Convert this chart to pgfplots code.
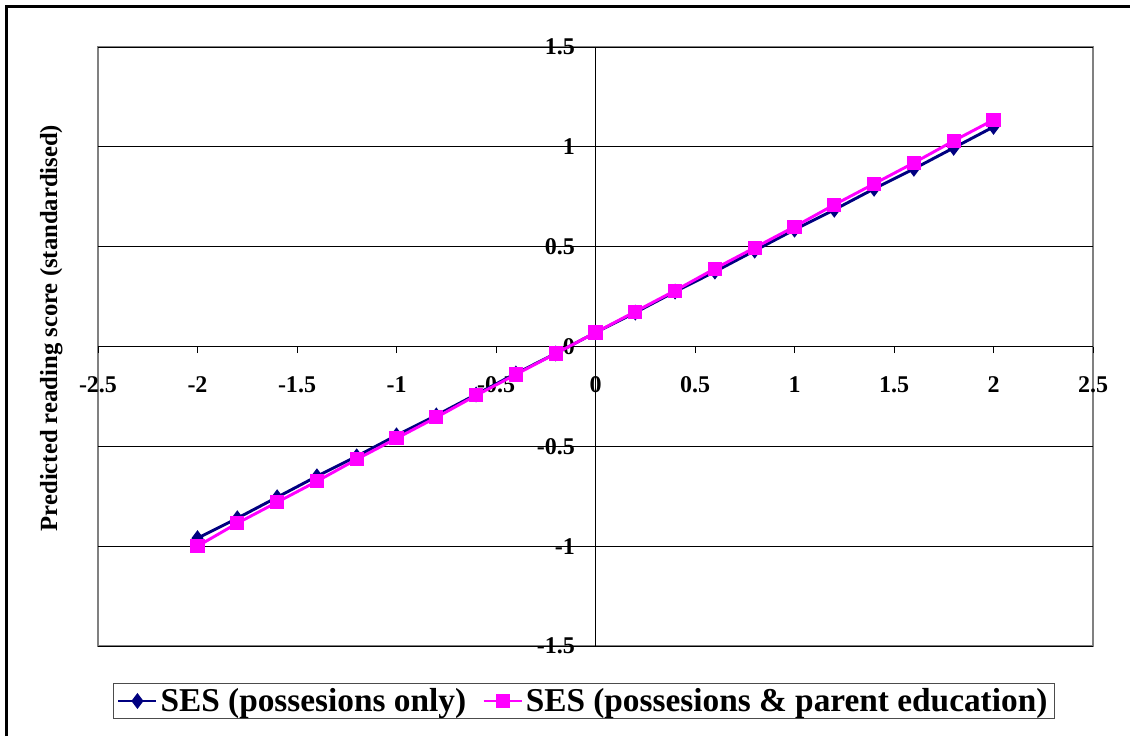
\documentclass[border=0pt]{standalone}
\usepackage{pgfplots}
\pgfplotsset{compat=1.18}
\usepackage{fontspec}
\setmainfont{Liberation Serif}
\definecolor{sesblue}{RGB}{0,0,128}
\definecolor{sespink}{RGB}{255,0,255}
\definecolor{plotborder}{RGB}{128,128,128}
\begin{document}
\begin{tikzpicture}
\path[use as bounding box] (0pt,0pt) rectangle (847.5pt,-552pt);
\draw[line width=2.25pt,black] (4.875pt,-552pt) -- (4.875pt,-4.875pt) -- (847.5pt,-4.875pt);
\node[rotate=90,font=\bfseries\fontsize{18.5}{22}\selectfont] at (38.5pt,-246pt) {Predicted reading score (standardised)};
\begin{axis}[
  at={(73.5pt,-484.5pt)}, anchor=south west,
  scale only axis, width=746.25pt, height=449.25pt,
  xmin=-2.5, xmax=2.5, ymin=-1.5, ymax=1.5,
  axis lines=middle,
  axis line style={black, -, line width=0.75pt},
  axis background/.style={draw=plotborder, line width=1pt},
  hide obscured x ticks=false, hide obscured y ticks=false,
  xtick={-2.5,-2,-1.5,-1,-0.5,0,0.5,1,1.5,2,2.5},
  xticklabels={{-2.5},{-2},{-1.5},{-1},{-0.5},{0},{0.5},{1},{1.5},{2},{2.5}},
  ytick={-1.5,-1,-0.5,0,0.5,1,1.5},
  yticklabels={{-1.5},{-1},{-0.5},{0},{0.5},{1},{1.5}},
  ymajorgrids, grid style={black, line width=0.75pt},
  tick align=outside, major tick length=5pt,
  tick style={black, line width=0.75pt},
  xticklabel style={font=\bfseries\fontsize{18}{20}\selectfont, anchor=north, yshift=-14pt},
  yticklabel style={font=\bfseries\fontsize{18}{20}\selectfont, anchor=east, xshift=-7pt},
  clip=false,
  legend columns=2,
  legend style={at={(0.488,-0.0918)}, anchor=center, draw=black!70, line width=0.75pt,
    font=\bfseries\fontsize{25}{30}\selectfont, inner xsep=3pt, inner ysep=1.5pt,
    /tikz/every even column/.append style={column sep=10pt}},
  legend image code/.code={\draw[mark repeat=2,mark phase=2] plot coordinates {(0cm,0cm) (0.5cm,0cm) (1cm,0cm)};},
]
\addplot[sesblue, line width=2.2pt, mark=diamond*, mark size=4.2pt, mark options={solid}] coordinates {
(-2,-0.96) (-1.8,-0.86) (-1.6,-0.755) (-1.4,-0.65) (-1.2,-0.55) (-1,-0.445) (-0.8,-0.345) (-0.6,-0.24) (-0.4,-0.135) (-0.2,-0.035) (0,0.07) (0.2,0.17) (0.4,0.275) (0.6,0.375) (0.8,0.48) (1,0.585) (1.2,0.685) (1.4,0.79) (1.6,0.89) (1.8,0.995) (2,1.10)};
\addlegendentry{SES (possesions only)}
\addplot[sespink, line width=2.2pt, mark=square*, mark size=4.2pt, mark options={solid}] coordinates {
(-2,-1.0) (-1.8,-0.885) (-1.6,-0.78) (-1.4,-0.675) (-1.2,-0.565) (-1,-0.46) (-0.8,-0.355) (-0.6,-0.245) (-0.4,-0.14) (-0.2,-0.035) (0,0.07) (0.2,0.175) (0.4,0.28) (0.6,0.39) (0.8,0.495) (1,0.60) (1.2,0.71) (1.4,0.815) (1.6,0.92) (1.8,1.03) (2,1.135)};
\addlegendentry{SES (possesions \& parent education)}
\end{axis}
\end{tikzpicture}
\end{document}
